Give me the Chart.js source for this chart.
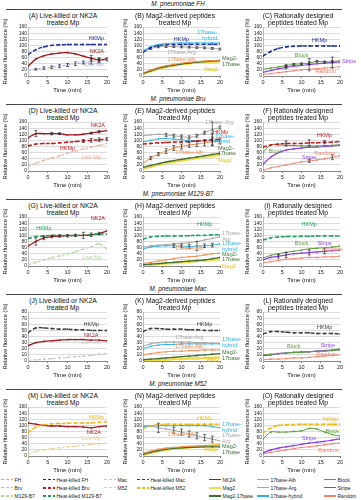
<!DOCTYPE html>
<html>
<head>
<meta charset="utf-8">
<script src="https://cdn.jsdelivr.net/npm/chart.js@4.4.1/dist/chart.umd.min.js"></script>
<style>
  body { margin: 0; background: #fff; }
  #fig { position: relative; width: 361px; height: 500px; overflow: hidden; font-family: "Liberation Sans", Arial, sans-serif; color: #111; }
  .sec { position: absolute; left: 0; width: 356px; text-align: center; font-size: 6.3px; font-style: italic; line-height: 7px; }
  .rule { position: absolute; left: 6px; width: 336px; border-top: 0.8px solid #444; }
  .ttl { position: absolute; width: 120px; text-align: center; font-size: 6.8px; line-height: 7.2px; color: #111; }
  canvas { position: absolute; }
  .leg { position: absolute; font-size: 5px; line-height: 7px; white-space: nowrap; color: #222; }
  .leg i { display: inline-block; width: 12px; vertical-align: middle; margin-right: 1.5px; position: relative; top: -0.5px; }
</style>
</head>
<body>
<div id="fig"></div>
<script>
const times = [0, 2, 4, 6, 8, 10, 12, 14, 16, 18, 20];
const strains = ['FH', 'Bru', 'M129-B7', 'Mac', 'M52'];
const yTitle = 'Relative fluorescence (%)';
const xTitle = 'Time (min)';

// FH
const A_hk = [70, 86, 95, 100, 102, 103, 103, 103, 103, 103, 103];
const A_nk2a = [32, 55, 66, 72, 75, 76, 72, 65, 58, 52, 56];
const A_live = [18, 22, 26, 29, 32, 36, 40, 44, 47, 50, 54];
const A_liveErr = [0, 3, 4, 4, 5, 5, 6, 5, 8, 7, 5];
const A_nk2aErr = [0, 0, 0, 0, 0, 0, 0, 0, 9, 7, 0];
const B_hyb = [82, 96, 103, 106, 107, 108, 108, 108, 108, 108, 108];
const B_hk = [78, 92, 100, 103, 104, 104, 104, 104, 104, 104, 104];
const B_arg = [80, 90, 95, 96, 96, 95, 94, 93, 92, 90, 88];
const B_argErr = [0, 3, 3, 3, 3, 3, 3, 3, 3, 3, 3];
const B_alb = [10, 20, 28, 34, 38, 42, 45, 47, 49, 50, 52];
const B_m17 = [8, 17, 25, 31, 35, 39, 42, 45, 47, 49, 50];
const B_mag2 = [6, 15, 23, 29, 34, 38, 41, 44, 46, 47, 48];
const C_hk = [65, 80, 90, 95, 97, 98, 98, 98, 98, 98, 98];
const C_block = [22, 26, 30, 34, 38, 40, 42, 48, 46, 47, 50];
const C_blockErr = [0, 0, 0, 3, 3, 3, 4, 3, 3, 4, 0];
const C_stripe = [12, 18, 24, 28, 32, 35, 37, 40, 42, 44, 46];
const C_stripeErr = [0, 0, 0, 4, 0, 0, 20, 0, 0, 18, 0];
const C_random = [5, 8, 11, 14, 17, 20, 22, 24, 26, 28, 30];

// Bru
const D_nk2a = [108, 122, 122, 122, 122, 118, 118, 120, 124, 128, 132];
const D_nk2aErr = [0, 10, 0, 4, 3, 0, 0, 0, 3, 4, 0];
const D_hk = [82, 88, 90, 90, 92, 94, 96, 98, 100, 102, 104];
const D_hkErr = [0, 0, 0, 0, 0, 0, 0, 5, 6, 6, 5];
const D_live = [15, 25, 35, 42, 50, 58, 65, 72, 78, 84, 90];
const E_arg = [115, 118, 120, 118, 115, 112, 110, 115, 125, 135, 142];
const E_argErr = [0, 0, 0, 5, 5, 5, 5, 5, 5, 25, 5];
const E_hk = [88, 90, 92, 93, 94, 95, 96, 98, 100, 102, 104];
const E_hkErr = [0, 0, 0, 0, 0, 0, 0, 0, 0, 20, 0];
const E_hyb = [95, 100, 105, 106, 104, 102, 100, 98, 98, 98, 98];
const E_alb = [25, 42, 55, 65, 75, 80, 85, 88, 92, 95, 98];
const E_albErr = [0, 5, 5, 8, 8, 8, 8, 8, 10, 10, 10];
const E_m17 = [12, 18, 24, 30, 34, 38, 42, 46, 50, 54, 58];
const E_mag2 = [8, 14, 20, 26, 30, 34, 38, 42, 46, 50, 52];
const F_hk = [78, 85, 88, 90, 90, 90, 92, 92, 94, 94, 96];
const F_hkErr = [0, 0, 0, 8, 0, 0, 10, 0, 5, 0, 0];
const F_block = [60, 85, 85, 84, 83, 82, 82, 82, 83, 84, 85];
const F_stripe = [22, 45, 60, 68, 72, 75, 78, 78, 80, 82, 85];
const F_random = [2, 10, 15, 20, 25, 30, 33, 36, 40, 45, 50];
const F_randomErr = [0, 0, 0, 0, 0, 0, 5, 0, 0, 8, 0];

// M129-B7
const G_hk = [90, 96, 98, 100, 100, 100, 100, 100, 102, 104, 105];
const G_nk2a = [65, 80, 92, 96, 98, 99, 100, 100, 102, 106, 115];
const G_nk2aErr = [0, 12, 6, 4, 4, 4, 4, 10, 6, 4, 0];
const G_live = [5, 12, 20, 27, 33, 40, 47, 55, 63, 72, 55];
const H_hk = [88, 95, 97, 98, 98, 98, 99, 100, 100, 102, 102];
const H_arg = [62, 66, 68, 70, 72, 74, 76, 80, 85, 90, 95];
const H_hyb = [55, 62, 65, 66, 66, 65, 64, 65, 66, 68, 72];
const H_hybErr = [0, 0, 0, 0, 6, 6, 6, 15, 6, 6, 0];
const H_alb = [8, 12, 16, 20, 24, 28, 30, 32, 36, 40, 42];
const H_m17 = [4, 6, 8, 10, 12, 14, 16, 18, 20, 24, 28];
const H_mag2 = [2, 4, 6, 8, 10, 12, 14, 16, 18, 20, 22];
const I_hk = [85, 92, 95, 96, 96, 97, 97, 98, 98, 98, 98];
const I_block = [25, 35, 40, 45, 48, 52, 56, 58, 60, 62, 65];
const I_stripe = [20, 28, 32, 36, 40, 42, 44, 46, 48, 50, 52];
const I_stripeErr = [0, 0, 6, 8, 0, 0, 8, 0, 8, 0, 0];
const I_random = [10, 14, 18, 22, 24, 26, 28, 28, 30, 30, 32];

// Mac
const J_hk = [46, 54, 54, 53, 52, 52, 51, 51, 50, 50, 50];
const J_nk2a = [25, 30, 32, 33, 34, 35, 35, 35, 34, 34, 33];
const J_live = [1, 2, 3, 4, 5, 6, 7, 8, 9, 11, 12];
const K_hk = [48, 53, 53, 52, 52, 52, 51, 51, 50, 50, 50];
const K_arg = [24, 28, 30, 31, 31, 31, 31, 30, 30, 29, 29];
const K_hyb = [20, 24, 26, 27, 27, 28, 28, 28, 28, 28, 28];
const K_alb = [10, 12, 14, 15, 16, 16, 17, 17, 18, 18, 18];
const K_m17 = [2, 3, 4, 5, 6, 7, 8, 9, 10, 11, 12];
const K_mag2 = [1, 1, 2, 2, 3, 3, 4, 4, 5, 5, 6];
const L_hk = [44, 48, 48, 47, 46, 46, 46, 45, 45, 45, 44];
const L_block = [10, 11, 12, 13, 14, 14, 15, 16, 16, 17, 18];
const L_stripe = [9, 10, 12, 13, 14, 15, 15, 16, 17, 18, 19];
const L_random = [2, 3, 3, 4, 5, 5, 6, 7, 8, 9, 10];

// M52
const M_hk = [75, 95, 102, 105, 106, 107, 108, 108, 108, 110, 112];
const M_nk2a = [108, 104, 100, 98, 98, 96, 96, 95, 92, 96, 98];
const M_live = [5, 15, 20, 24, 27, 30, 32, 35, 38, 40, 42];
const N_hk = [90, 98, 102, 104, 104, 104, 104, 104, 104, 104, 104];
const N_hyb = [95, 98, 99, 99, 99, 99, 99, 99, 99, 96, 92];
const N_arg = [100, 98, 92, 88, 84, 78, 72, 66, 60, 55, 50];
const N_argErr = [0, 0, 15, 0, 10, 10, 10, 10, 10, 10, 0];
const N_alb = [10, 16, 22, 26, 28, 30, 32, 33, 34, 35, 36];
const N_m17 = [5, 12, 18, 22, 25, 27, 28, 29, 30, 30, 30];
const N_mag2 = [3, 10, 16, 20, 24, 26, 28, 30, 32, 34, 36];
const O_hk = [75, 92, 100, 102, 103, 104, 104, 104, 104, 104, 104];
const O_block = [55, 78, 78, 78, 80, 82, 90, 88, 78, 70, 65];
const O_stripe = [10, 20, 26, 30, 34, 38, 42, 45, 48, 52, 56];
const O_random = [8, 12, 16, 20, 24, 28, 30, 33, 36, 40, 42];

// colour, dashed, width
const look = {
  'FH': ['#a3ace6', 1, 1.1], 'Bru': ['#f4a88e', 1, 1.1], 'M129-B7': ['#b0d694', 1, 1.1],
  'Mac': ['#c4c4c4', 1, 1.1], 'M52': ['#e6d28a', 1, 1.1],
  'Heat-killed FH': ['#1b2f95', 2, 1.5], 'Heat-killed Bru': ['#c8161d', 2, 1.5],
  'Heat-killed M129-B7': ['#1e9e58', 2, 1.5], 'Heat-killed Mac': ['#3c3c3c', 2, 1.5],
  'Heat-killed M52': ['#f2b705', 2, 1.5],
  'NK2A': ['#a01a1f', 0, 1.3], 'Mag2': ['#f2dc45', 0, 2.4], 'Mag2-17base': ['#3f6e37', 0, 1.3],
  '17base-Alb': ['#f08a4b', 0, 1], '17base-Arg': ['#a6a6a6', 0, 1], '17base-hybrid': ['#2fb2e0', 0, 1],
  'Block': ['#5c9e3a', 0, 1], 'Stripe': ['#8b3ee6', 0, 1.2], 'Random': ['#f0846f', 0, 1]
};

const liveTitle = ['Live-killed or NK2A', 'treated Mp'];
const magTitle = ['Mag2-derived peptides', 'treated Mp'];
const ratTitle = ['Rationally designed', 'peptides treated Mp'];

const panels = [
  { id: 'A', t: liveTitle, ymax: 160, step: 20, sets: [
    ['Heat-killed FH', A_hk, null, { t: 'HKMp', i: 10, dx: -3, dy: -6, a: 'right' }],
    ['NK2A', A_nk2a, A_nk2aErr, { t: 'NK2A', i: 10, dx: -3, dy: -7, a: 'right' }],
    ['FH', A_live, A_liveErr, { t: 'Live Mp', i: 10, dx: -3, dy: 5, a: 'right' }]]},
  { id: 'B', t: magTitle, ymax: 160, step: 20, sets: [
    ['17base-hybrid', B_hyb, null, { t: ['17base-', 'hybrid'], i: 10, dx: -3, dy: -10, a: 'right' }],
    ['Heat-killed FH', B_hk, null, { t: 'HKMp', i: 5, dy: -5 }],
    ['17base-Arg', B_arg, B_argErr, { t: '17base-Arg', i: 5, dy: 6 }],
    ['17base-Alb', B_alb, null, { t: '17base-Alb', i: 5, dy: -4 }],
    ['Mag2-17base', B_m17, null, { t: ['Mag2-', '17base'], i: 10, dx: 2, dy: -2, a: 'left' }],
    ['Mag2', B_mag2, null, { t: 'Mag2', i: 10, dx: -2, dy: 8, a: 'right' }]]},
  { id: 'C', t: ratTitle, ymax: 160, step: 20, sets: [
    ['Heat-killed FH', C_hk, null, { t: 'HKMp', i: 9, dx: -5, dy: -6, a: 'right' }],
    ['Block', C_block, C_blockErr, { t: 'Block', i: 5, dy: -8 }],
    ['Stripe', C_stripe, C_stripeErr, { t: 'Stripe', i: 10, dx: 2, a: 'left' }],
    ['Random', C_random, null, { t: 'Random', i: 10, dx: -4, dy: 5, a: 'right' }]]},
  { id: 'D', t: liveTitle, ymax: 160, step: 20, sets: [
    ['NK2A', D_nk2a, D_nk2aErr, { t: 'NK2A', i: 10, dx: -2, dy: -5, a: 'right' }],
    ['Heat-killed Bru', D_hk, D_hkErr, { t: 'HKMp', i: 5, dy: 6 }],
    ['Bru', D_live, null, { t: 'Live Mp', i: 8, dy: 10 }]]},
  { id: 'E', t: magTitle, ymax: 160, step: 20, sets: [
    ['17base-Arg', E_arg, E_argErr, { t: '17base-Arg', i: 10, dx: -15, dy: -5, a: 'left' }],
    ['Heat-killed Bru', E_hk, E_hkErr, { t: 'HKMp', i: 10, dx: -7, dy: -7, a: 'left' }],
    ['17base-hybrid', E_hyb, null, { t: ['17base-', 'hybrid'], i: 10, dx: -5, dy: -5, a: 'left' }],
    ['17base-Alb', E_alb, E_albErr, { t: '17base-Alb', i: 6, dy: 8 }],
    ['Mag2-17base', E_m17, null, { t: ['Mag2-', '17base'], i: 10, dx: -2, dy: -5, a: 'left' }],
    ['Mag2', E_mag2, null, { t: 'Mag2', i: 10, dx: -2, dy: 5, a: 'left' }]]},
  { id: 'F', t: ratTitle, ymax: 160, step: 20, sets: [
    ['Heat-killed Bru', F_hk, F_hkErr, { t: 'HKMp', i: 10, dx: -8, dy: -6, a: 'right' }],
    ['Block', F_block, null, { t: 'Block', i: 1, dx: -2, dy: 7, a: 'left' }],
    ['Stripe', F_stripe, null, { t: 'Stripe', i: 6, dy: 10 }],
    ['Random', F_random, F_randomErr, { t: 'Random', i: 8, dy: -5 }]]},
  { id: 'G', t: liveTitle, ymax: 160, step: 20, sets: [
    ['Heat-killed M129-B7', G_hk, null, { t: 'HKMp', i: 2, dy: -8 }],
    ['NK2A', G_nk2a, G_nk2aErr, { t: 'NK2A', i: 10, dx: -2, dy: -12, a: 'right' }],
    ['M129-B7', G_live, null, { t: 'Live Mp', i: 10, dx: -5, dy: 8, a: 'right' }]]},
  { id: 'H', t: magTitle, ymax: 160, step: 20, sets: [
    ['Heat-killed M129-B7', H_hk, null, { t: 'HKMp', i: 8, dy: -11 }],
    ['17base-Arg', H_arg, null, { t: ['17base-', 'Arg'], i: 10, dx: 2, dy: -3, a: 'left' }],
    ['17base-hybrid', H_hyb, H_hybErr, { t: ['17base-', 'hybrid'], i: 10, dx: 2, dy: 0, a: 'left' }],
    ['17base-Alb', H_alb, null, { t: '17base-Alb', i: 6, dy: -8 }],
    ['Mag2-17base', H_m17, null, { t: ['Mag2-', '17base'], i: 10, dx: 2, dy: -3, a: 'left' }],
    ['Mag2', H_mag2, null, { t: 'Mag2', i: 10, dx: 2, dy: 7, a: 'left' }]]},
  { id: 'I', t: ratTitle, ymax: 160, step: 20, sets: [
    ['Heat-killed M129-B7', I_hk, null, { t: 'HKMp', i: 6, dy: -12 }],
    ['Block', I_block, null, { t: 'Block', i: 5, dy: -7 }],
    ['Stripe', I_stripe, I_stripeErr, { t: 'Stripe', i: 8, dy: -8 }],
    ['Random', I_random, null, { t: 'Random', i: 9, dy: -7 }]]},
  { id: 'J', t: liveTitle, ymax: 80, step: 10, sets: [
    ['Heat-killed Mac', J_hk, null, { t: 'HKMp', i: 8, dy: -6 }],
    ['NK2A', J_nk2a, null, { t: 'NK2A', i: 8, dy: -5 }],
    ['Mac', J_live, null, { t: 'Live Mp', i: 8, dy: -13 }]]},
  { id: 'K', t: magTitle, ymax: 80, step: 10, sets: [
    ['Heat-killed Mac', K_hk, null, { t: 'HKMp', i: 8, dy: -6 }],
    ['17base-Arg', K_arg, null, { t: '17base-Arg', i: 6, dy: -5 }],
    ['17base-hybrid', K_hyb, null, { t: ['17base-', 'hybrid'], i: 10, dx: 2, dy: -4, a: 'left' }],
    ['17base-Alb', K_alb, null, { t: '17base-Alb', i: 6, dy: -4 }],
    ['Mag2-17base', K_m17, null, { t: ['Mag2-', '17base'], i: 10, dx: 2, dy: -1, a: 'left' }],
    ['Mag2', K_mag2, null, { t: 'Mag2', i: 10, dx: -1, dy: 2, a: 'right' }]]},
  { id: 'L', t: ratTitle, ymax: 80, step: 10, sets: [
    ['Heat-killed Mac', L_hk, null, { t: 'HKMp', i: 8, dy: -6 }],
    ['Block', L_block, null, { t: 'Block', i: 4, dy: -6 }],
    ['Stripe', L_stripe, null, { t: 'Stripe', i: 10, dx: -5, dy: -4, a: 'right' }],
    ['Random', L_random, null, { t: 'Random', i: 10, dx: -3, dy: 0, a: 'right' }]]},
  { id: 'M', t: liveTitle, ymax: 160, step: 20, sets: [
    ['Heat-killed M52', M_hk, null, { t: 'HKMp', i: 10, dx: -3, dy: -4, a: 'right' }],
    ['NK2A', M_nk2a, null, { t: 'NK2A', i: 10, dx: -6, dy: 6, a: 'right' }],
    ['M52', M_live, null, { t: 'Live Mp', i: 10, dx: -6, dy: -5, a: 'right' }]]},
  { id: 'N', t: magTitle, ymax: 160, step: 20, sets: [
    ['Heat-killed M52', N_hk, null, { t: 'HKMp', i: 8, dy: -6 }],
    ['17base-hybrid', N_hyb, null, { t: ['17base-', 'hybrid'], i: 10, dx: 2, dy: -3, a: 'left' }],
    ['17base-Arg', N_arg, N_argErr, { t: ['17base-', 'Arg'], i: 10, dx: 2, dy: -5, a: 'left' }],
    ['17base-Alb', N_alb, null, { t: '17base-Alb', i: 5, dy: -12 }],
    ['Mag2-17base', N_m17, null, { t: ['Mag2-', '17base'], i: 10, dx: 2, dy: 0, a: 'left' }],
    ['Mag2', N_mag2, null, { t: 'Mag2', i: 10, dx: -2, dy: 5, a: 'right' }]]},
  { id: 'O', t: ratTitle, ymax: 160, step: 20, sets: [
    ['Heat-killed M52', O_hk, null, { t: 'HKMp', i: 10, dx: -2, dy: -5, a: 'right' }],
    ['Block', O_block, null, { t: 'Block', i: 10, dx: -1, dy: -5, a: 'right' }],
    ['Stripe', O_stripe, null, { t: 'Stripe', i: 6, dy: -5 }],
    ['Random', O_random, null, { t: 'Random', i: 10, dx: -1, dy: 7, a: 'right' }]]}
];

const legendCols = [
  ['FH', 'Bru', 'M129-B7'],
  ['Heat-killed FH', 'Heat-killed Bru', 'Heat-killed M129-B7'],
  ['Mac', 'M52'],
  ['Heat-killed Mac', 'Heat-killed M52'],
  ['NK2A', 'Mag2', 'Mag2-17base'],
  ['17base-Alb', '17base-Arg', '17base-hybrid'],
  ['Block', 'Stripe', 'Random']
];

// layout
const rowBase = [0, 95, 190, 285, 380];
const cols = [
  { x: 0, w: 121, yw: 28, pr: 14, tp: 2, mid: 63 },
  { x: 121, w: 122, yw: 22, pr: 23, tp: 0.5, mid: 175 },
  { x: 243, w: 118, yw: 20, pr: 21, tp: 0.5, mid: 298 }
];
const legendX = [1, 43, 104, 137, 209, 257, 324];
const FONT = '"Liberation Sans", Arial, sans-serif';
Chart.defaults.font.family = FONT;

const errBars = {
  id: 'errBars',
  afterDatasetsDraw(chart) {
    const ctx = chart.ctx, ys = chart.scales.y;
    chart.data.datasets.forEach((ds, k) => {
      if (!ds.err) return;
      const meta = chart.getDatasetMeta(k);
      ctx.save();
      ctx.strokeStyle = '#111';
      ctx.lineWidth = 0.6;
      ds.err.forEach((e, j) => {
        if (!e) return;
        const p = meta.data[j], v = ds.data[j].y;
        const top = ys.getPixelForValue(v + e), bot = ys.getPixelForValue(v - e);
        ctx.beginPath();
        ctx.moveTo(p.x, top); ctx.lineTo(p.x, bot);
        ctx.moveTo(p.x - 1.5, top); ctx.lineTo(p.x + 1.5, top);
        ctx.moveTo(p.x - 1.5, bot); ctx.lineTo(p.x + 1.5, bot);
        ctx.stroke();
      });
      ctx.restore();
    });
  }
};

const tags = {
  id: 'tags',
  afterDatasetsDraw(chart) {
    const ctx = chart.ctx;
    chart.data.datasets.forEach((ds, k) => {
      const g = ds.tag;
      if (!g) return;
      const p = chart.getDatasetMeta(k).data[g.i];
      ctx.save();
      ctx.font = '5.5px ' + FONT;
      ctx.fillStyle = ds.borderColor === '#f2dc45' ? '#e0c21a' : ds.borderColor;
      ctx.textAlign = g.a || 'center';
      ctx.textBaseline = 'middle';
      [].concat(g.t).forEach((s, n) => ctx.fillText(s, p.x + (g.dx || 0), p.y + (g.dy || 0) + n * 5.5));
      ctx.restore();
    });
  }
};

const fig = document.getElementById('fig');
function add(cls, css, html) {
  const d = document.createElement('div');
  d.className = cls;
  Object.assign(d.style, css);
  if (html) d.innerHTML = html;
  fig.appendChild(d);
  return d;
}

rowBase.forEach((b, r) => {
  add('sec', { top: (b - 0.5) + 'px' }, 'M. pneumoniae ' + strains[r]);
  add('rule', { top: (b + 9) + 'px' });
});

panels.forEach((p, n) => {
  const r = Math.floor(n / 3), c = cols[n % 3], b = rowBase[r];
  add('ttl', { top: (b + 11.5) + 'px', left: (c.mid - 60) + 'px' }, '(' + p.id + ') ' + p.t[0] + '<br>' + p.t[1]);

  const cv = document.createElement('canvas');
  cv.width = c.w; cv.height = 83;
  cv.style.left = c.x + 'px'; cv.style.top = (b + 11) + 'px';
  cv.style.width = c.w + 'px'; cv.style.height = '83px';
  fig.appendChild(cv);

  const datasets = p.sets.map(([name, arr, err, tag]) => {
    const [col, dash, w] = look[name];
    return {
      label: name,
      data: times.map((t, j) => ({ x: t, y: arr[j] })),
      borderColor: col, backgroundColor: col,
      borderWidth: w,
      borderDash: dash === 1 ? [3, 2] : dash === 2 ? [4, 2] : [],
      pointRadius: 0.9, pointBackgroundColor: col, pointBorderWidth: 0,
      tension: 0.35, fill: false,
      err: err, tag: tag
    };
  });

  new Chart(cv, {
    type: 'line',
    data: { datasets },
    plugins: [errBars, tags],
    options: {
      responsive: false, animation: false, devicePixelRatio: 1,
      layout: { padding: { top: 16, right: c.pr, left: 0, bottom: 0 } },
      plugins: { legend: { display: false }, tooltip: { enabled: false } },
      scales: {
        x: {
          type: 'linear', min: 0, max: 20,
          ticks: { stepSize: 5, font: { size: 5.5 }, color: '#222', padding: 1, maxRotation: 0 },
          grid: { drawOnChartArea: false, tickLength: 2, color: '#888' },
          border: { color: '#888' },
          title: { display: true, text: xTitle, font: { size: 6 }, color: '#111', padding: 0 },
          afterFit: s => { s.height = 18; }
        },
        y: {
          min: 0, max: p.ymax,
          ticks: { stepSize: p.step, font: { size: 5 }, color: '#222', padding: 1, autoSkip: false },
          grid: { color: '#dcdcdc', drawTicks: false },
          border: { color: '#bbb' },
          title: { display: true, text: yTitle, font: { size: 5.8 }, color: '#111', padding: { top: c.tp, bottom: 0 } },
          afterFit: s => { s.width = c.yw; }
        }
      }
    }
  });
});

legendCols.forEach((items, ci) => {
  items.forEach((name, ri) => {
    const [col, dash, w] = look[name];
    const bg = dash
      ? 'repeating-linear-gradient(90deg,' + col + ' 0 3px,transparent 3px 5px)'
      : col;
    add('leg', { left: legendX[ci] + 'px', top: (476.5 + ri * 8.2) + 'px' },
      '<i style="height:' + Math.max(1.2, w) + 'px;background:' + bg + '"></i>' + name);
  });
});
</script>
</body>
</html>
